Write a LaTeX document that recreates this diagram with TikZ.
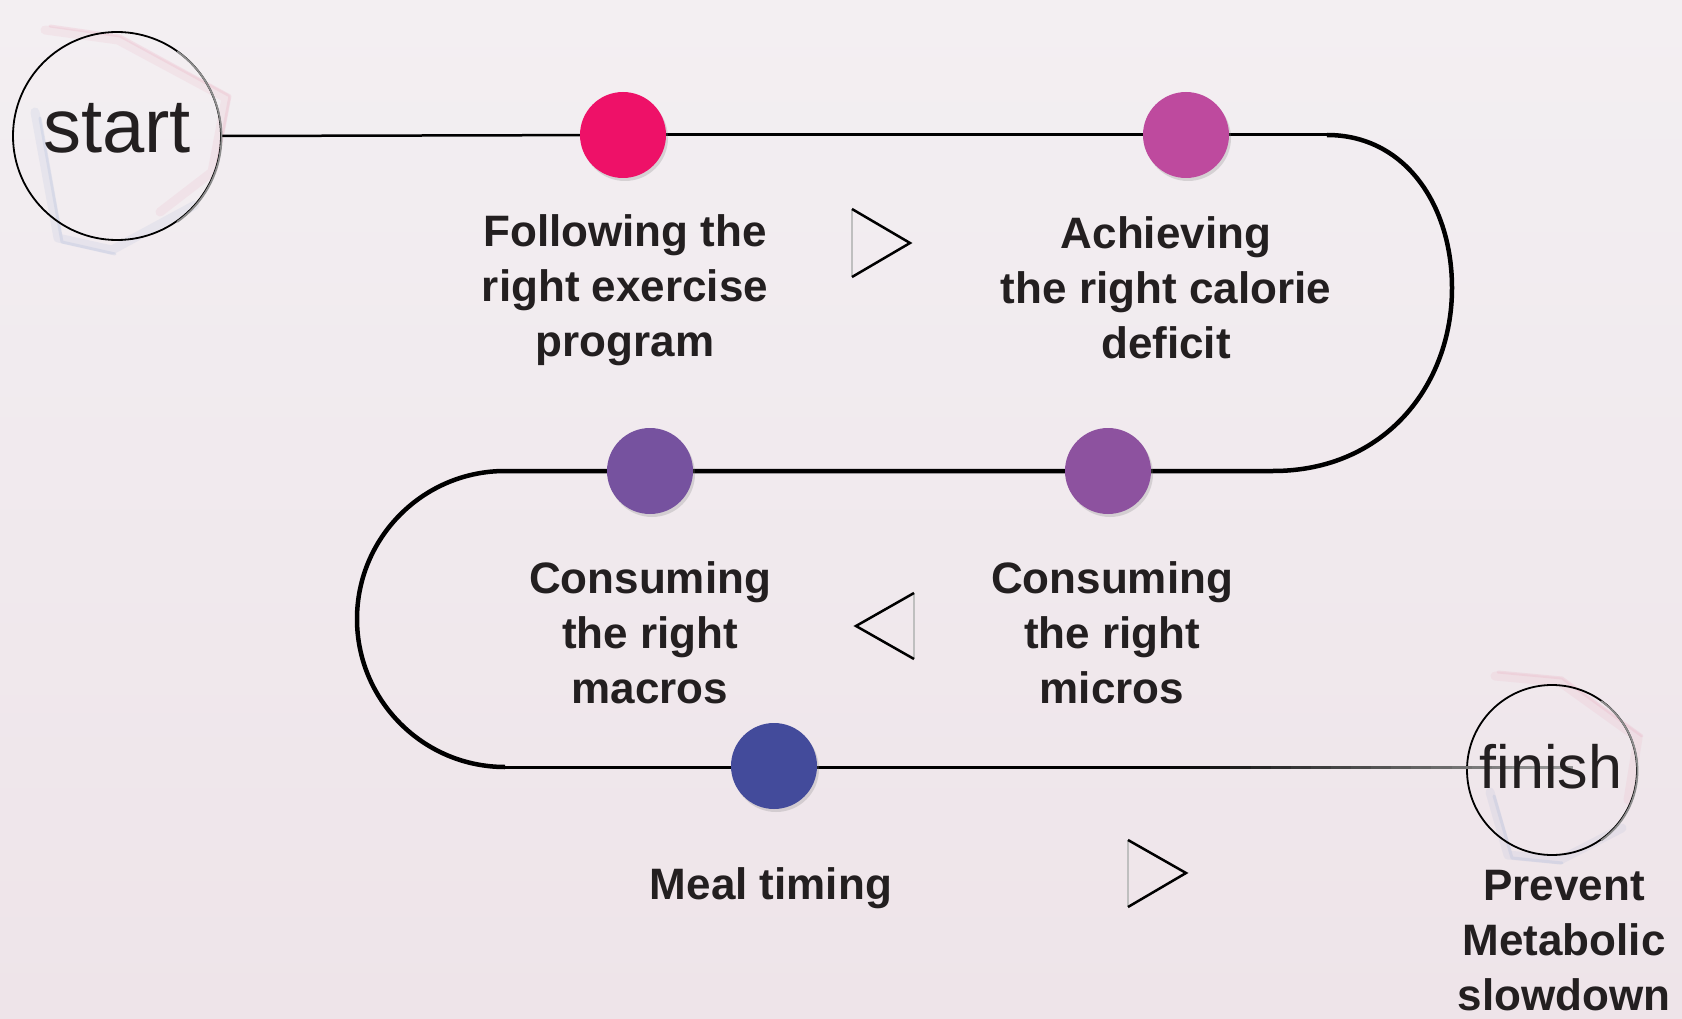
\documentclass[tikz,border=0pt]{standalone}
\usepackage{fontspec}
\setmainfont{Liberation Sans}
\usetikzlibrary{shadows}
\definecolor{bgtop}{RGB}{243,239,242}
\definecolor{bgbot}{RGB}{238,228,233}
\definecolor{txt}{RGB}{35,31,32}
\definecolor{c1}{RGB}{238,17,104}
\definecolor{c2}{RGB}{190,74,158}
\definecolor{c3}{RGB}{118,82,159}
\definecolor{c4}{RGB}{141,82,159}
\definecolor{c5}{RGB}{67,75,155}
\definecolor{wpink}{RGB}{232,150,175}
\definecolor{wblue}{RGB}{150,170,210}
\begin{document}
\begin{tikzpicture}[x=1pt,y=-1pt,
  dot/.style={circle, minimum size=86pt, inner sep=0pt, draw=none,
    drop shadow={shadow xshift=2pt, shadow yshift=-3pt, opacity=0.25}},
  ring/.style={circle, draw=black, line width=1.8pt, inner sep=0pt},
  lbl/.style={text=txt, align=center, font=\bfseries\fontsize{44}{55}\selectfont},
  endtxt/.style={text=txt, anchor=base},
  tri/.style={draw=black, line width=2.5pt, line join=miter},
  triback/.style={draw=black!25, line width=1.5pt},
  wash/.style={line width=9pt, opacity=0.12, line join=round, line cap=round},
  washthin/.style={line width=3pt, opacity=0.18, line join=round, line cap=round},
  path/.style={draw=black, line width=4.5pt}
]
\useasboundingbox (0,0) rectangle (1682,1019);
\shade[top color=bgtop, bottom color=bgbot] (0,0) rectangle (1682,1019);

% watercolor washes
\draw[wash, wpink] (45,30) -- (118,40) -- (226,98) -- (212,172) -- (160,212);
\draw[washthin, wpink] (50,26) -- (120,36) -- (230,96) -- (216,170);
\draw[wash, wblue] (35,112) -- (58,238) -- (112,250) -- (195,205);
\draw[washthin, wblue] (40,118) -- (62,242) -- (115,254);
\draw[wash, wpink] (1495,676) -- (1560,682) -- (1638,738) -- (1628,800);
\draw[washthin, wpink] (1498,672) -- (1562,678) -- (1642,736);
\draw[wash, wblue] (1490,792) -- (1508,855) -- (1560,860) -- (1622,828);
\draw[washthin, wblue] (1494,796) -- (1512,858) -- (1562,863);

% nodes
\node[ring, minimum size=208pt] (start) at (117,136) {};
\node[ring, minimum size=170pt] (finish) at (1552,770) {};
\coordinate (r1) at (1327,135);
\coordinate (r2) at (1273,471);
\coordinate (l1) at (505,471);
\coordinate (l2) at (505,767);
\coordinate (g1) at (1150,767);
\coordinate (g2) at (1572,767);

% connectors
\draw[black, line width=2.5pt] (start.east) -- (623,135);
\draw[black, line width=3pt] (623,135) -- (1186,135) -- (r1);
\draw[path] (r1) .. controls (1405,135) and (1452,205) .. (1452,288)
  .. controls (1452,385) and (1385,471) .. (r2) -- (1108,471) -- (650,471) -- (l1)
  .. controls (423.3,471) and (357,537.5) .. (357,619)
  .. controls (357,700.5) and (423.3,767) .. (l2);
\draw[black, line width=3pt] (l2) -- (g1);
\foreach \i in {0,...,20}{
  \pgfmathsetmacro\xa{1150+\i*20.1}
  \pgfmathsetmacro\xb{\xa+21}
  \pgfmathtruncatemacro\pc{100-3*\i}
  \draw[black!\pc, line width=3pt] (\xa,767) -- (\xb,767);
}

% right edges of rings fade to grey
\draw[black!45, line width=1.8pt] (start.-55) arc[start angle=-55, end angle=55, radius=104pt];
\draw[black!45, line width=1.8pt] (finish.-55) arc[start angle=-55, end angle=55, radius=85pt];

% dots
\node[dot, fill=c1] (d1) at (623,135) {};
\node[dot, fill=c2] (d2) at (1186,135) {};
\node[dot, fill=c3] (d3) at (650,471) {};
\node[dot, fill=c4] (d4) at (1108,471) {};
\node[dot, fill=c5] (d5) at (774,766) {};

% end texts
\node[endtxt, font=\fontsize{76}{76}\selectfont] (st) at (117,153) {start};
\node[endtxt, font=\fontsize{61}{61}\selectfont] (fi) at (1551,788) {finish};

% labels
\node[lbl] (t1) at (625,290) {Following the\\right exercise\\program};
\node[lbl] (t2) at (1166,288) {Achieving\\the right calorie\\deficit};
\node[lbl] (t3) at (650,633) {Consuming\\the right\\macros};
\node[lbl] (t4) at (1112,633) {Consuming\\the right\\micros};
\node[lbl] (t5) at (771,888) {Meal timing};
\node[lbl] (t6) at (1564,941) {Prevent\\Metabolic\\slowdown};

% direction triangles
\draw[triback] (852,209) -- (852,277);
\draw[tri] (852,209) -- (910,243) -- (852,277);
\draw[triback] (914,593) -- (914,659);
\draw[tri] (914,593) -- (856,626) -- (914,659);
\draw[triback] (1128,840) -- (1128,907);
\draw[tri] (1128,840) -- (1186,873) -- (1128,907);
\end{tikzpicture}
\end{document}
